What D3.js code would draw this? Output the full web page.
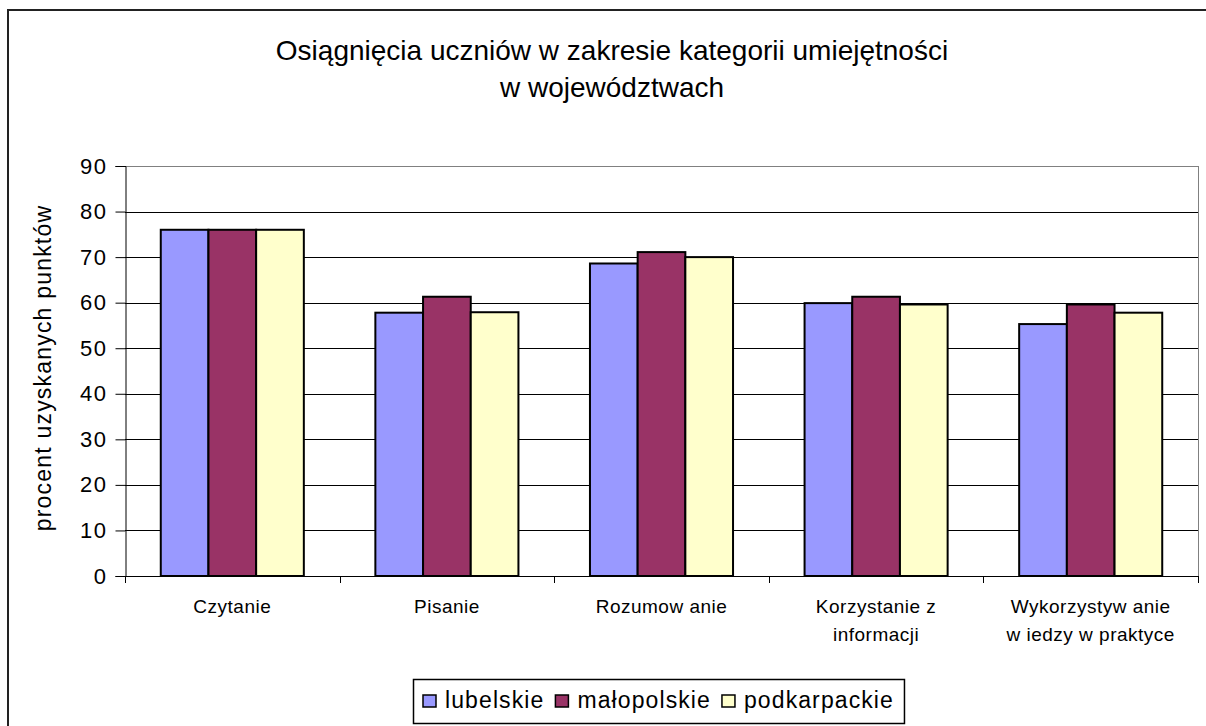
<!DOCTYPE html>
<html>
<head>
<meta charset="utf-8">
<script src="https://cdn.jsdelivr.net/npm/d3@7"></script>
<style>
  html, body { margin: 0; padding: 0; background: #fff; }
  svg { display: block; font-family: "Liberation Sans", Arial, sans-serif; }
</style>
</head>
<body>
<div id="chart"></div>
<script>
// data
const categories = [
  ['Czytanie'],
  ['Pisanie'],
  ['Rozumow anie'],
  ['Korzystanie z', 'informacji'],
  ['Wykorzystyw anie', 'w iedzy w  praktyce']
];
const seriesNames = ['lubelskie', 'małopolskie', 'podkarpackie'];
const lubelskie = [76, 57.8, 68.6, 59.9, 55.3];
const malopolskie = [76, 61.3, 71.1, 61.3, 59.6];
const podkarpackie = [76, 57.9, 70.0, 59.6, 57.8];
const yTicks = [0, 10, 20, 30, 40, 50, 60, 70, 80, 90];
const titleLines = ['Osiągnięcia uczniów w zakresie kategorii umiejętności', 'w województwach'];
const yTitle = 'procent uzyskanych punktów';

const colors = ['#9999FF', '#993366', '#FFFFCC'];
const values = [lubelskie, malopolskie, podkarpackie];

// params
const width = 1206, height = 726;
const plot = {left: 125, right: 1198, top: 166, bottom: 576};

const svg = d3.select('#chart').append('svg')
  .attr('width', width)
  .attr('height', height);

// outer frame
svg.append('rect')
  .attr('x', 8).attr('y', 10)
  .attr('width', 1210).attr('height', 740)
  .attr('fill', 'none')
  .attr('stroke', '#222')
  .attr('stroke-width', 2);

// title
svg.append('g').selectAll('text')
  .data(titleLines)
  .join('text')
  .attr('x', 612)
  .attr('y', (d, i) => 60 + i * 37)
  .attr('text-anchor', 'middle')
  .attr('font-size', 28)
  .attr('fill', '#000')
  .text(d => d);

// scales
const catKeys = categories.map(d => d.join(' '));
const x0 = d3.scaleBand().domain(catKeys).range([plot.left, plot.right]).padding(0);
const bw = x0.bandwidth();
const x1 = d3.scaleBand().domain(seriesNames).range([bw / 6, bw * 5 / 6]).padding(0);
const y = d3.scaleLinear().domain([0, 90]).range([plot.bottom, plot.top]);

// gridlines
svg.append('g').selectAll('line')
  .data(yTicks.filter(t => t > 0))
  .join('line')
  .attr('x1', plot.left).attr('x2', plot.right)
  .attr('y1', d => Math.round(y(d)) + 0.5)
  .attr('y2', d => Math.round(y(d)) + 0.5)
  .attr('stroke', d => d === 90 ? '#808080' : '#000')
  .attr('stroke-width', 1);

// plot area right border
svg.append('line')
  .attr('x1', plot.right + 0.5).attr('x2', plot.right + 0.5)
  .attr('y1', plot.top).attr('y2', plot.bottom)
  .attr('stroke', '#808080');

// bars
const rows = catKeys.map((c, i) => ({cat: c, vals: seriesNames.map((s, j) => ({s, j, v: values[j][i]}))}));
svg.append('g').selectAll('g')
  .data(rows)
  .join('g')
  .attr('transform', d => `translate(${x0(d.cat)},0)`)
  .selectAll('rect')
  .data(d => d.vals)
  .join('rect')
  .attr('x', d => x1(d.s))
  .attr('y', d => y(d.v))
  .attr('width', x1.bandwidth())
  .attr('height', d => y(0) - y(d.v))
  .attr('fill', d => colors[d.j])
  .attr('stroke', '#000')
  .attr('stroke-width', 2);

// y axis
const yAxis = svg.append('g')
  .attr('transform', `translate(${plot.left + 0.5},0)`)
  .call(d3.axisLeft(y).tickValues(yTicks).tickSize(10).tickPadding(8).tickFormat(d3.format('d')));
yAxis.select('.domain').attr('stroke', '#000');
yAxis.selectAll('.tick line').attr('stroke', '#000');
yAxis.selectAll('.tick text')
  .attr('font-size', 22)
  .attr('letter-spacing', 1.5)
  .attr('font-family', '"Liberation Sans", Arial, sans-serif')
  .attr('fill', '#000');

// x axis line + ticks at band boundaries
svg.append('line')
  .attr('x1', plot.left).attr('x2', plot.right)
  .attr('y1', plot.bottom + 0.5).attr('y2', plot.bottom + 0.5)
  .attr('stroke', '#000');
const bounds = catKeys.map(c => x0(c)).concat([plot.right]);
svg.append('g').selectAll('line')
  .data(bounds)
  .join('line')
  .attr('x1', d => Math.round(d) + 0.5).attr('x2', d => Math.round(d) + 0.5)
  .attr('y1', plot.bottom).attr('y2', plot.bottom + 7)
  .attr('stroke', '#000');

// category labels
svg.append('g').selectAll('text')
  .data(categories)
  .join('text')
  .attr('x', (d, i) => x0(catKeys[i]) + bw / 2)
  .attr('y', 613)
  .attr('text-anchor', 'middle')
  .attr('font-size', 19)
  .attr('letter-spacing', 0.5)
  .attr('fill', '#000')
  .selectAll('tspan')
  .data(d => d)
  .join('tspan')
  .attr('x', function() { return this.parentNode.getAttribute('x'); })
  .attr('dy', (d, i) => i === 0 ? 0 : 28)
  .text(d => d);

// y title
svg.append('text')
  .attr('transform', 'translate(51,368) rotate(-90)')
  .attr('text-anchor', 'middle')
  .attr('font-size', 23)
  .attr('letter-spacing', 1.2)
  .attr('fill', '#000')
  .text(yTitle);

// legend
const legend = svg.append('g');
const legendBox = legend.append('rect')
  .attr('fill', '#fff')
  .attr('stroke', '#000')
  .attr('stroke-width', 1.5);
let lx = 423;
const ly = 701;
seriesNames.forEach((s, i) => {
  legend.append('rect')
    .attr('x', lx).attr('y', ly - 6)
    .attr('width', 13).attr('height', 12)
    .attr('fill', colors[i])
    .attr('stroke', '#000')
    .attr('stroke-width', 1.5);
  const t = legend.append('text')
    .attr('x', lx + 22)
    .attr('y', ly + 7)
    .attr('font-size', 23)
    .attr('letter-spacing', 1.1)
    .attr('fill', '#000')
    .text(s);
  lx += 22 + t.node().getComputedTextLength() + 11;
});
legendBox
  .attr('x', 413.5).attr('y', 679.5)
  .attr('width', lx - 413 - 1)
  .attr('height', 44);
</script>
</body>
</html>
